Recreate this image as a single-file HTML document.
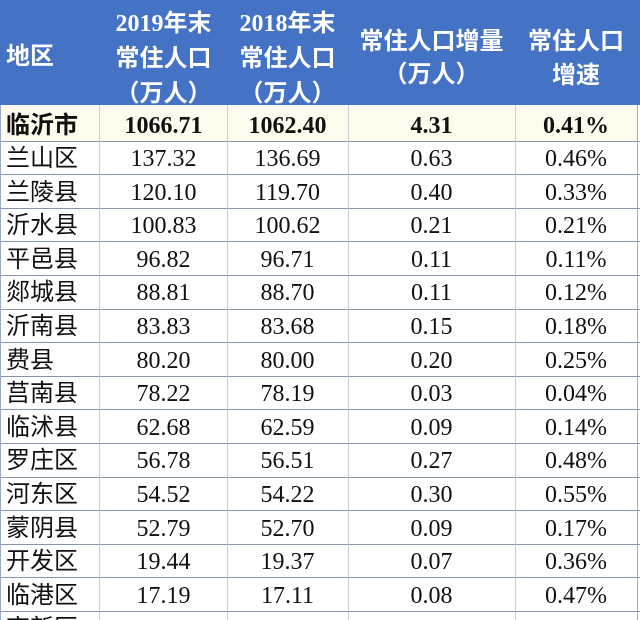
<!DOCTYPE html>
<html>
<head>
<meta charset="utf-8">
<style>
  html,body{margin:0;padding:0;background:#fff;}
  html{width:640px;height:620px;overflow:hidden;}
  body{width:640px;height:620px;position:relative;overflow:hidden;
       font-family:"Liberation Serif","Noto Sans CJK SC",serif;}
  .hdr{position:absolute;left:0;top:0;width:640px;height:105px;background:#4472c4;}
  .ht{position:absolute;color:#fff;font-weight:bold;text-align:center;font-size:24px;height:30px;line-height:30px;
      font-family:"Liberation Serif","Noto Sans CJK SC",sans-serif;white-space:nowrap;}
  .row{position:absolute;left:0;width:640px;height:33.6px;}
  .row div{position:absolute;top:0;height:33.6px;line-height:33.6px;text-align:center;
           font-size:24px;color:#111;white-space:nowrap;}
  .row .n{font-family:"Liberation Serif",serif;top:2px;}
  .row .a{left:6px;top:1px;text-align:left;font-family:"Liberation Sans","Noto Sans CJK SC",sans-serif;font-size:24px;}
  .c2{left:100px;width:127px;}
  .c3{left:227px;width:121px;}
  .c4{left:348px;width:167px;}
  .c5{left:515px;width:122px;}
  .hl{position:absolute;left:0;width:640px;height:1px;background:#8795ab;}
  .vl{position:absolute;top:105px;height:515px;width:1px;background:#c9ccd2;}
  .b{font-weight:bold;}
</style>
</head>
<body>
<div class="hdr"></div>
<!-- header texts -->
<div class="ht" style="left:6px;top:42px;text-align:left;">地区</div>
<div class="ht" style="left:100px;width:127px;top:9px;">2019年末</div>
<div class="ht" style="left:100px;width:127px;top:44px;">常住人口</div>
<div class="ht" style="left:100px;width:127px;top:79px;">（万人）</div>
<div class="ht" style="left:227px;width:121px;top:9px;">2018年末</div>
<div class="ht" style="left:227px;width:121px;top:44px;">常住人口</div>
<div class="ht" style="left:227px;width:121px;top:79px;">（万人）</div>
<div class="ht" style="left:348px;width:167px;top:27px;">常住人口增量</div>
<div class="ht" style="left:348px;width:167px;top:60px;">（万人）</div>
<div class="ht" style="left:515px;width:122px;top:27px;">常住人口</div>
<div class="ht" style="left:515px;width:122px;top:61px;">增速</div>

<!-- first row cream -->
<div style="position:absolute;left:0;top:105px;width:637px;height:36px;background:#fffcee;"></div>

<div class="row" style="top:107.5px;">
  <div class="a b">临沂市</div><div class="c2 n b">1066.71</div><div class="c3 n b">1062.40</div><div class="c4 n b">4.31</div><div class="c5 n b">0.41%</div>
</div>
<div class="row" style="top:141px;"><div class="a">兰山区</div><div class="c2 n">137.32</div><div class="c3 n">136.69</div><div class="c4 n">0.63</div><div class="c5 n">0.46%</div></div>
<div class="row" style="top:174.6px;"><div class="a">兰陵县</div><div class="c2 n">120.10</div><div class="c3 n">119.70</div><div class="c4 n">0.40</div><div class="c5 n">0.33%</div></div>
<div class="row" style="top:208.2px;"><div class="a">沂水县</div><div class="c2 n">100.83</div><div class="c3 n">100.62</div><div class="c4 n">0.21</div><div class="c5 n">0.21%</div></div>
<div class="row" style="top:241.8px;"><div class="a">平邑县</div><div class="c2 n">96.82</div><div class="c3 n">96.71</div><div class="c4 n">0.11</div><div class="c5 n">0.11%</div></div>
<div class="row" style="top:275.4px;"><div class="a">郯城县</div><div class="c2 n">88.81</div><div class="c3 n">88.70</div><div class="c4 n">0.11</div><div class="c5 n">0.12%</div></div>
<div class="row" style="top:309px;"><div class="a">沂南县</div><div class="c2 n">83.83</div><div class="c3 n">83.68</div><div class="c4 n">0.15</div><div class="c5 n">0.18%</div></div>
<div class="row" style="top:342.6px;"><div class="a">费县</div><div class="c2 n">80.20</div><div class="c3 n">80.00</div><div class="c4 n">0.20</div><div class="c5 n">0.25%</div></div>
<div class="row" style="top:376.2px;"><div class="a">莒南县</div><div class="c2 n">78.22</div><div class="c3 n">78.19</div><div class="c4 n">0.03</div><div class="c5 n">0.04%</div></div>
<div class="row" style="top:409.8px;"><div class="a">临沭县</div><div class="c2 n">62.68</div><div class="c3 n">62.59</div><div class="c4 n">0.09</div><div class="c5 n">0.14%</div></div>
<div class="row" style="top:443.4px;"><div class="a">罗庄区</div><div class="c2 n">56.78</div><div class="c3 n">56.51</div><div class="c4 n">0.27</div><div class="c5 n">0.48%</div></div>
<div class="row" style="top:477px;"><div class="a">河东区</div><div class="c2 n">54.52</div><div class="c3 n">54.22</div><div class="c4 n">0.30</div><div class="c5 n">0.55%</div></div>
<div class="row" style="top:510.6px;"><div class="a">蒙阴县</div><div class="c2 n">52.79</div><div class="c3 n">52.70</div><div class="c4 n">0.09</div><div class="c5 n">0.17%</div></div>
<div class="row" style="top:544.2px;"><div class="a">开发区</div><div class="c2 n">19.44</div><div class="c3 n">19.37</div><div class="c4 n">0.07</div><div class="c5 n">0.36%</div></div>
<div class="row" style="top:577.8px;"><div class="a">临港区</div><div class="c2 n">17.19</div><div class="c3 n">17.11</div><div class="c4 n">0.08</div><div class="c5 n">0.47%</div></div>
<div class="row" style="top:611.4px;"><div class="a">高新区</div><div class="c2 n" style="color:#ccc;">13.52</div><div class="c3 n" style="color:#ccc;">13.48</div><div class="c4 n" style="color:#ccc;">0.04</div><div class="c5 n" style="color:#ccc;">0.30%</div></div>

<!-- grid lines -->
<div class="hl" style="top:140.5px;"></div>
<div class="hl" style="top:174.1px;"></div>
<div class="hl" style="top:207.7px;"></div>
<div class="hl" style="top:241.3px;"></div>
<div class="hl" style="top:274.9px;"></div>
<div class="hl" style="top:308.5px;"></div>
<div class="hl" style="top:342.1px;"></div>
<div class="hl" style="top:375.7px;"></div>
<div class="hl" style="top:409.3px;"></div>
<div class="hl" style="top:442.9px;"></div>
<div class="hl" style="top:476.5px;"></div>
<div class="hl" style="top:510.1px;"></div>
<div class="hl" style="top:543.7px;"></div>
<div class="hl" style="top:577.3px;"></div>
<div class="hl" style="top:610.9px;"></div>

<div class="vl" style="left:99px;"></div>
<div class="vl" style="left:227px;"></div>
<div class="vl" style="left:348px;"></div>
<div class="vl" style="left:515px;"></div>
<div class="vl" style="left:637px;background:#9aaac4;"></div>
<div class="vl" style="left:0px;background:#9aaac4;"></div>
</body>
</html>
